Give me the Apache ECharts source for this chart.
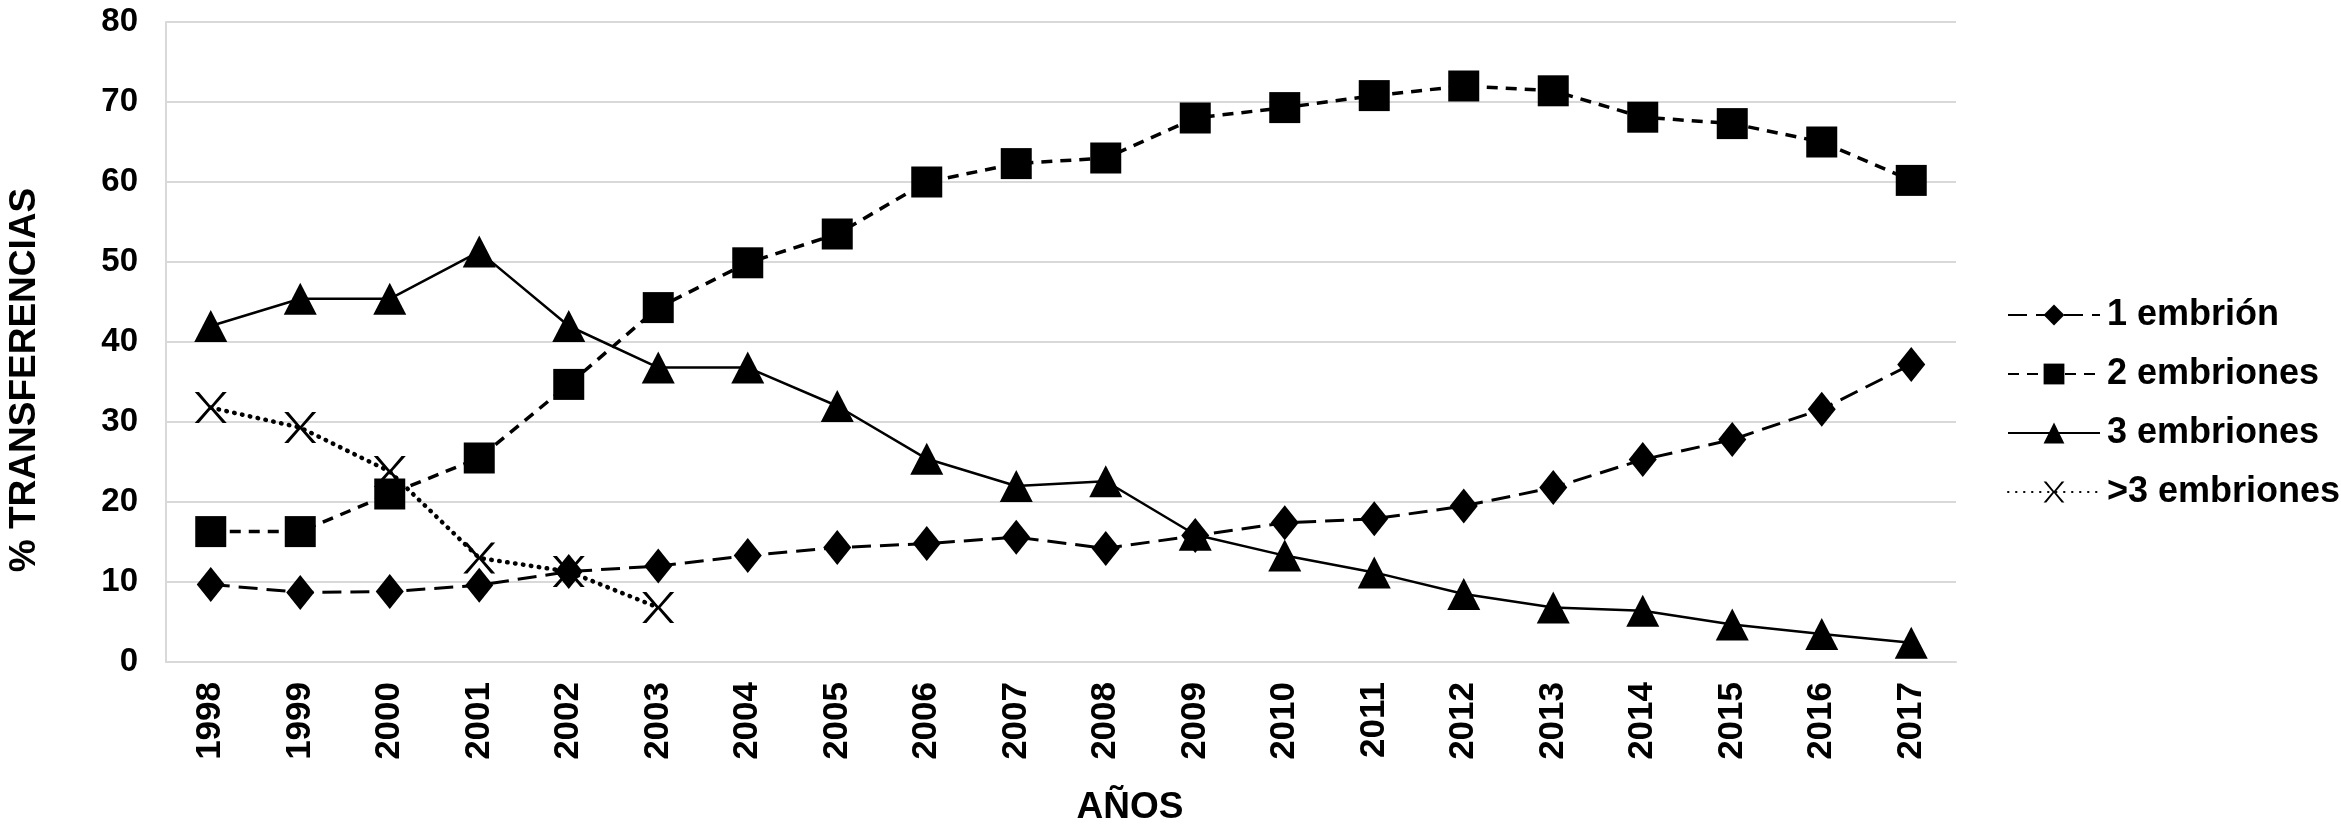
<!DOCTYPE html>
<html>
<head>
<meta charset="utf-8">
<script src="https://cdn.jsdelivr.net/npm/echarts@6/dist/echarts.min.js"></script>
<style>html,body{margin:0;padding:0;background:#fff}#c{width:2341px;height:832px}</style>
</head>
<body>
<div id="c"></div>
<script>
const years = ['1998','1999','2000','2001','2002','2003','2004','2005','2006','2007','2008','2009','2010','2011','2012','2013','2014','2015','2016','2017'];
const seriesNames = ['1 embrión','2 embriones','3 embriones','>3 embriones'];
const e1 = [9.7, 8.7, 8.8, 9.6, 11.3, 12.0, 13.3, 14.3, 14.8, 15.6, 14.2, 15.8, 17.4, 17.9, 19.5, 21.8, 25.3, 27.8, 31.6, 37.2];
const e2 = [16.3, 16.3, 21.0, 25.5, 34.7, 44.3, 49.9, 53.5, 60.0, 62.3, 63.0, 68.0, 69.3, 70.8, 72.0, 71.4, 68.1, 67.3, 65.0, 60.2];
const e3 = [42.0, 45.4, 45.4, 51.3, 42.0, 36.8, 36.8, 32.0, 25.4, 22.0, 22.6, 15.9, 13.3, 11.2, 8.5, 6.8, 6.4, 4.7, 3.5, 2.4];
const e4 = [31.8, 29.3, 23.8, 13.0, 11.3, 6.8, null, null, null, null, null, null, null, null, null, null, null, null, null, null];
const yTicks = [0, 10, 20, 30, 40, 50, 60, 70, 80];
const xTitle = 'AÑOS';
const yTitle = '% TRANSFERENCIAS';

const FONT = "'Liberation Sans', Arial, sans-serif";
const crossPath = 'path://M0,0 L1.3,0 L5,4.5 L8.7,0 L10,0 L5.7,5 L10,10 L8.7,10 L5,5.5 L1.3,10 L0,10 L4.3,5 Z';

const chart = echarts.init(document.getElementById('c'), null, {renderer: 'canvas'});
chart.setOption({
  animation: false,
  backgroundColor: '#ffffff',
  grid: {left: 166, right: 385, top: 22, bottom: 170, containLabel: false},
  xAxis: {
    type: 'category',
    data: years,
    boundaryGap: true,
    axisLine: {show: true, lineStyle: {color: '#d9d9d9', width: 2}},
    axisTick: {show: false},
    axisLabel: {rotate: 90, margin: 20, color: '#000', fontFamily: FONT, fontWeight: 'bold', fontSize: 35}
  },
  yAxis: {
    type: 'value',
    min: yTicks[0], max: yTicks[yTicks.length - 1], interval: 10,
    axisLine: {show: true, lineStyle: {color: '#d9d9d9', width: 2}},
    axisTick: {show: false},
    splitLine: {show: true, lineStyle: {color: '#d9d9d9', width: 2}},
    axisLabel: {margin: 28, color: '#000', fontFamily: FONT, fontWeight: 'bold', fontSize: 33}
  },
  legend: {
    orient: 'vertical',
    left: 2002, top: 292,
    itemWidth: 92, itemHeight: 26, itemGap: 23,
    textStyle: {color: '#000', fontFamily: FONT, fontWeight: 'bold', fontSize: 36, padding: [0, 0, 0, 2]},
    data: seriesNames
  },
  graphic: [
    {type: 'text', x: 25, y: 380, rotation: Math.PI / 2,
     style: {text: yTitle, fill: '#000', font: "bold 37px 'Liberation Sans', Arial, sans-serif", align: 'center', verticalAlign: 'middle'}},
    {type: 'text', x: 1130, y: 808,
     style: {text: xTitle, fill: '#000', font: "bold 37px 'Liberation Sans', Arial, sans-serif", align: 'center', verticalAlign: 'middle'}}
  ],
  series: [
    {name: seriesNames[0], type: 'line', data: e1, symbol: 'diamond', symbolSize: [28, 35],
     itemStyle: {color: '#000'}, lineStyle: {color: '#000', width: 3, type: [19, 9]}, z: 3},
    {name: seriesNames[1], type: 'line', data: e2, symbol: 'rect', symbolSize: [31, 31],
     itemStyle: {color: '#000'}, lineStyle: {color: '#000', width: 3.5, type: [11, 8]}, z: 3},
    {name: seriesNames[2], type: 'line', data: e3, symbol: 'triangle', symbolSize: [33, 32],
     itemStyle: {color: '#000'}, lineStyle: {color: '#000', width: 2.5, type: 'solid'}, z: 3},
    {name: seriesNames[3], type: 'line', data: e4, symbol: crossPath, symbolSize: [32, 31], connectNulls: false,
     itemStyle: {color: '#000'}, lineStyle: {color: '#000', width: 4.5, type: [0.5, 7.5], cap: 'round'}, z: 3}
  ]
});
</script>
</body>
</html>
